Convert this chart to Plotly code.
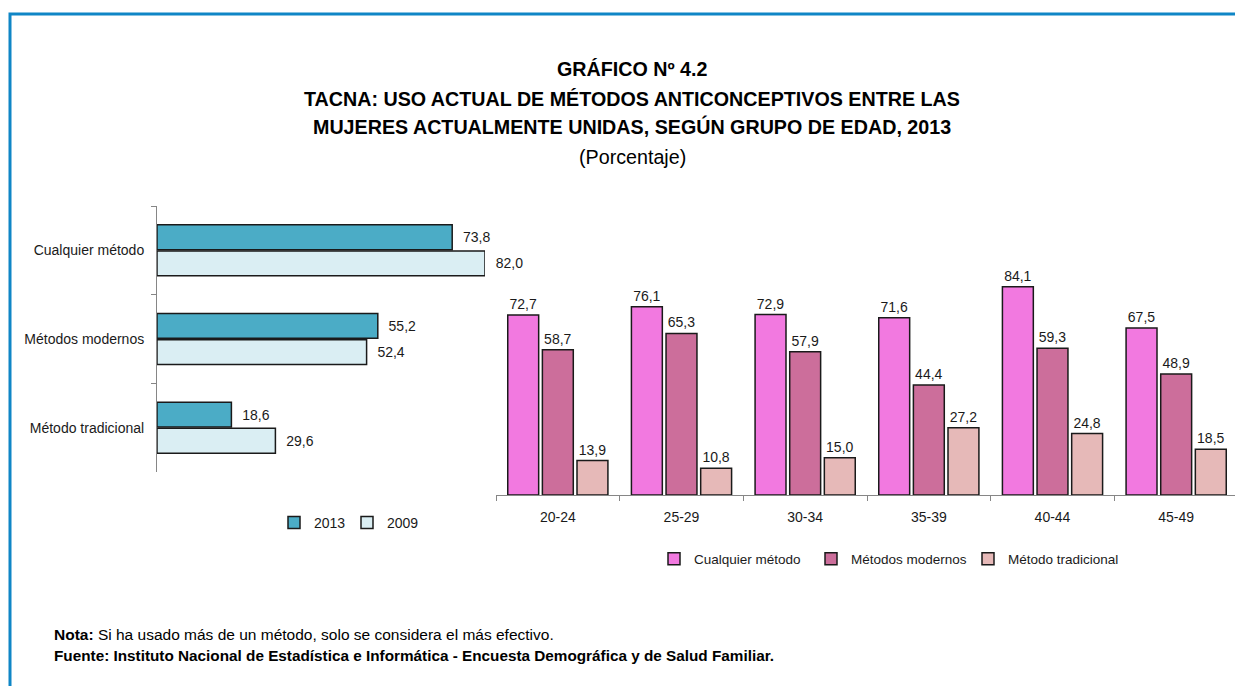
import plotly.graph_objects as go

# ── Data
metodos = ["Cualquier método", "Métodos modernos", "Método tradicional"]
uso_2013 = [73.8, 55.2, 18.6]
uso_2009 = [82.0, 52.4, 29.6]

edades = ["20-24", "25-29", "30-34", "35-39", "40-44", "45-49"]
cualquier = [72.7, 76.1, 72.9, 71.6, 84.1, 67.5]
modernos = [58.7, 65.3, 57.9, 44.4, 59.3, 48.9]
tradicional = [13.9, 10.8, 15.0, 27.2, 24.8, 18.5]

W, H = 1243, 686
OFF = 8  # page body margin
FONT = "Liberation Sans Narrow, Arial Narrow, Liberation Sans, sans-serif"
EDGE = dict(color="#1a1a1a", width=1.5)


def px_x(x):
    return (x - OFF) / W


def px_y(y):
    return 1 - (y - OFF) / H


def fmt(v):
    return f"{v:.1f}".replace(".", ",")


fig = go.Figure()

# left chart: 2013 vs 2009
for name, vals, col in [("2013", uso_2013, "#4BACC6"),
                        ("2009", uso_2009, "#DAEEF3")]:
    fig.add_trace(go.Bar(
        name=name, y=metodos, x=vals, orientation="h",
        marker=dict(color=col, line=EDGE),
        text=["\u00a0\u00a0" + fmt(v) for v in vals], textposition="outside",
        textfont=dict(size=14, color="#1a1a1a"), cliponaxis=False,
        xaxis="x", yaxis="y", legend="legend",
    ))

# right chart: by age group
for i, (name, vals, col) in enumerate([("Cualquier método", cualquier, "#F279E0"),
                                       ("Métodos modernos", modernos, "#CC6E9B"),
                                       ("Método tradicional", tradicional, "#E6B9B8")]):
    fig.add_trace(go.Bar(
        name=name, x=edades, y=vals,
        marker=dict(color=col, line=EDGE),
        width=0.25, offset=-0.405 + i * 0.28,
        text=[fmt(v) for v in vals], textposition="outside",
        textfont=dict(size=14, color="#1a1a1a"), cliponaxis=False,
        xaxis="x2", yaxis="y2", legend="legend2",
    ))

fig.update_layout(
    width=W, height=H,
    margin=dict(l=0, r=0, t=0, b=0),
    paper_bgcolor="white", plot_bgcolor="rgba(0,0,0,0)",
    font=dict(family=FONT, size=14, color="#1a1a1a"),
    barmode="group",
    bargap=0.41, bargroupgap=0.05,
    xaxis=dict(domain=[px_x(157), px_x(485)], range=[0, 82], visible=False,
               anchor="y"),
    yaxis=dict(domain=[px_y(472), px_y(206)], autorange="reversed",
               anchor="x", showline=True, linecolor="#868686", linewidth=1,
               ticks="outside", tickson="boundaries", ticklen=5,
               tickcolor="#868686", showgrid=False,
               tickfont=dict(size=14), ticklabelstandoff=9),
    xaxis2=dict(domain=[px_x(496), px_x(1238)], anchor="y2",
                showline=True, linecolor="#868686", linewidth=1,
                ticks="outside", tickson="boundaries", ticklen=5,
                tickcolor="#868686", showgrid=False,
                tickfont=dict(size=14), ticklabelstandoff=9),
    yaxis2=dict(domain=[px_y(495), px_y(247.5)], range=[0, 100],
                anchor="x2", visible=False),
    legend=dict(orientation="h", x=px_x(274), y=px_y(523), yanchor="middle",
                xanchor="left", font=dict(size=14), bgcolor="rgba(0,0,0,0)",
                entrywidth=28),
    legend2=dict(orientation="h", x=px_x(654), y=px_y(559), yanchor="middle",
                 xanchor="left", font=dict(size=13.5), bgcolor="rgba(0,0,0,0)",
                 entrywidth=112),
)

# frame
fig.add_shape(type="rect", xref="paper", yref="paper",
              x0=px_x(10), x1=px_x(1240), y0=-0.05, y1=px_y(14),
              line=dict(color="#0F86C6", width=3), fillcolor="rgba(0,0,0,0)")

titles = [
    ("<b>GRÁFICO Nº 4.2</b>", 69),
    ("<b>TACNA: USO ACTUAL DE MÉTODOS ANTICONCEPTIVOS ENTRE LAS</b>", 99),
    ("<b>MUJERES ACTUALMENTE UNIDAS, SEGÚN GRUPO DE EDAD, 2013</b>", 127),
    ("(Porcentaje)", 157),
]
for txt, y in titles:
    fig.add_annotation(text=txt, xref="paper", yref="paper", x=px_x(632),
                       y=px_y(y), xanchor="center", yanchor="middle",
                       showarrow=False, font=dict(size=19.7, color="#000000"))

fig.add_annotation(
    text="<b>Nota:</b> Si ha usado más de un método, solo se considera el más efectivo.",
    xref="paper", yref="paper", x=px_x(52), y=px_y(634), xanchor="left",
    yanchor="middle", showarrow=False, font=dict(size=15.5, color="#000000"))
fig.add_annotation(
    text="<b>Fuente: Instituto Nacional de Estadística e Informática - Encuesta Demográfica y de Salud Familiar.</b>",
    xref="paper", yref="paper", x=px_x(52), y=px_y(655), xanchor="left",
    yanchor="middle", showarrow=False, font=dict(size=15.3, color="#000000"))

fig.write_html("out.html")
